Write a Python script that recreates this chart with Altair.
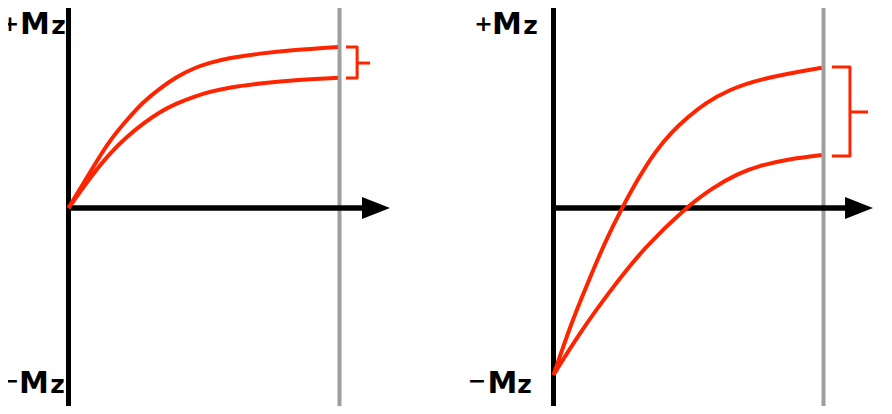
import altair as alt
import pandas as pd

# ---------------- data ----------------
# time in units of the grey reference line (t = 1), magnetisation in units of Mz
left_t = [0.0, 0.0915, 0.153, 0.215, 0.276, 0.338, 0.399, 0.461, 0.522, 0.584, 0.707, 0.830, 0.994]
left_upper = [0.0, 0.247, 0.407, 0.527, 0.637, 0.717, 0.786, 0.837, 0.870, 0.896, 0.926, 0.946, 0.964]
left_lower = [0.0, 0.208, 0.328, 0.427, 0.507, 0.577, 0.627, 0.666, 0.696, 0.720, 0.747, 0.766, 0.780]

right_upper_t = [0.0, 0.0674, 0.129, 0.191, 0.253, 0.314, 0.376, 0.438, 0.499, 0.561, 0.647, 0.771, 0.993]
right_upper = [-1.0, -0.681, -0.441, -0.202, -0.002, 0.178, 0.337, 0.457, 0.547, 0.627, 0.707, 0.777, 0.840]
right_lower_t = [0.0, 0.0919, 0.216, 0.339, 0.487, 0.586, 0.684, 0.771, 0.870, 0.993]
right_lower = [-1.0, -0.760, -0.481, -0.232, -0.002, 0.118, 0.208, 0.257, 0.293, 0.317]

ref_time = [1.0]
sign_labels = ["+", "\u2212"]
m_label = "M"
sub_label = "z"

RED = "#ff2400"
GREY = "#9e9e9e"
FONT = "DejaVu Sans"

W, H = 876, 398
ydom = [-1.1856, 1.1976]
ysc = alt.Scale(domain=ydom, nice=False, zero=False)


def panel(curves, xdom, bracket, arrow_end, arrow_mid, lbl):
    xs = alt.Scale(domain=xdom, nice=False, zero=False)
    X = lambda f: alt.X(f, type="quantitative", scale=xs, axis=None)
    Y = lambda f: alt.Y(f, type="quantitative", scale=ysc, axis=None)

    grey = alt.Chart(pd.DataFrame({"t": ref_time})).mark_rule(
        color=GREY, strokeWidth=4).encode(x=X("t"))
    yaxis = alt.Chart(pd.DataFrame({"t": [0.0]})).mark_rule(
        color="black", strokeWidth=5).encode(x=X("t"))
    xaxis = alt.Chart(pd.DataFrame({"t": [0.0], "t2": [arrow_end], "m": [0.0]})).mark_rule(
        color="black", strokeWidth=5.5).encode(x=X("t"), x2="t2", y=Y("m"))
    head = alt.Chart(pd.DataFrame({"t": [arrow_mid], "m": [0.0]})).mark_point(
        shape="M-1,-0.786L1,0L-1,0.786Z", size=784, filled=True, opacity=1,
        color="black", strokeWidth=0).encode(x=X("t"), y=Y("m"))

    rows = []
    for name, (tt, mm) in curves.items():
        for a, b in zip(tt, mm):
            rows.append({"t": a, "m": b, "s": name})
    lines = alt.Chart(pd.DataFrame(rows)).mark_line(
        color=RED, strokeWidth=4, interpolate="basis").encode(
        x=X("t"), y=Y("m"), detail="s:N")

    (ta, tb, tc), (m_top, m_mid, m_bot) = bracket
    br = pd.DataFrame({"t": [ta, tb, tb, ta], "m": [m_top, m_top, m_bot, m_bot], "o": [0, 1, 2, 3]})
    brk = alt.Chart(br).mark_line(color=RED, strokeWidth=3, strokeJoin="round").encode(
        x=X("t"), y=Y("m"), order="o:Q")
    tick = alt.Chart(pd.DataFrame({"t": [tb], "t2": [tc], "m": [m_mid]})).mark_rule(
        color=RED, strokeWidth=3).encode(x=X("t"), x2="t2", y=Y("m"))

    # labels
    (sx, sy), (mx, my), (zx, zy) = lbl
    sdf = pd.DataFrame({"t": sx, "m": sy, "l": sign_labels})
    signs = alt.Chart(sdf).mark_text(font=FONT, fontWeight="bold", fontSize=22, align="center",
                                     baseline="alphabetic", color="black").encode(
        x=X("t"), y=Y("m"), text="l:N")
    mdf = pd.DataFrame({"t": mx, "m": my, "l": [m_label, m_label]})
    ms = alt.Chart(mdf).mark_text(font=FONT, fontWeight="bold", fontSize=30, align="center",
                                  baseline="alphabetic", color="black").encode(
        x=X("t"), y=Y("m"), text="l:N")
    zdf = pd.DataFrame({"t": zx, "m": zy, "l": [sub_label, sub_label]})
    zs = alt.Chart(zdf).mark_text(font=FONT, fontWeight="bold", fontSize=25, align="center",
                                  baseline="alphabetic", color="black").encode(
        x=X("t"), y=Y("m"), text="l:N")

    return alt.layer(grey, yaxis, xaxis, head, lines, brk, tick, signs, ms, zs)


base_top, base_bot = 1.042, -1.108
sign_top, sign_bot = 1.061, -1.077

left = panel(
    {"a": (left_t, left_upper), "b": (left_t, left_lower)},
    [-60.5 / 271, (W - 60.5) / 271],
    ((1.024, 1.065, 1.113), (0.964, 0.868, 0.778)),
    1.09, 1.1347,
    (([-0.2159, -0.2159], [sign_top, sign_bot]),
     ([-0.1236, -0.1273], [base_top, base_bot]),
     ([-0.0369, -0.0406], [base_top, base_bot])),
)
right = panel(
    {"a": (right_upper_t, right_upper), "b": (right_lower_t, right_lower)},
    [-545.5 / 270, (W - 545.5) / 270],
    ((1.031, 1.098, 1.165), (0.844, 0.575, 0.311)),
    1.09, 1.1315,
    (([-0.2593, -0.2833], [sign_top, sign_bot]),
     ([-0.1722, -0.1889], [base_top, base_bot]),
     ([-0.0852, -0.1074], [base_top, base_bot])),
)

chart = alt.layer(left, right).resolve_scale(x="independent").properties(
    width=W, height=H, padding=0, autosize=alt.AutoSizeParams(type="none")
).configure_view(stroke=None)

chart.save("out.html", embed_options={"renderer": "svg", "actions": False})
